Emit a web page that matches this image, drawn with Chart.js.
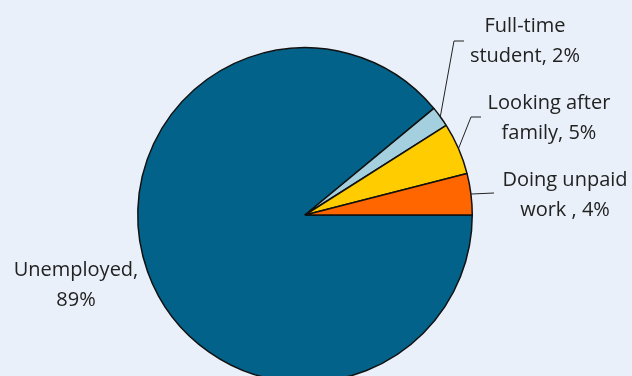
<!DOCTYPE html>
<html>
<head>
<meta charset="utf-8">
<script src="https://cdn.jsdelivr.net/npm/chart.js@4/dist/chart.umd.min.js"></script>
<style>
  html, body { margin: 0; padding: 0; overflow: hidden; background: #e9f0f9; }
  #wrap { position: relative; width: 632px; height: 383px; }
</style>
</head>
<body>
<div id="wrap"><canvas id="pie"></canvas></div>
<script>
// status shares, clockwise from 3 o'clock
const categories = ['Unemployed', 'Full-time student', 'Looking after family', 'Doing unpaid work'];
const shares = [89, 2, 5, 4];
const labelLines = [
  ['Unemployed,', '89%'],
  ['Full-time', 'student, 2%'],
  ['Looking after', 'family, 5%'],
  ['Doing unpaid', 'work , 4%']
];
const colours = ['#03628a', '#a3cfdf', '#ffcc00', '#ff6600'];

// label placement relative to pie centre; line = points the leader passes after leaving the arc
const labelLayout = [
  { x: -229, y: 70, line: null },
  { x: 220, y: -174, line: [[149, -174], [159, -174]] },
  { x: 244, y: -97, line: [[166, -98], [176, -98]] },
  { x: 260, y: -20, line: [[189, -22]] }
];

const calloutPlugin = {
  id: 'callouts',
  afterDatasetsDraw(chart) {
    const ctx = chart.ctx;
    const arcs = chart.getDatasetMeta(0).data;
    ctx.save();
    ctx.font = '20px "Open Sans", sans-serif';
    ctx.fillStyle = '#222';
    ctx.textAlign = 'center';
    ctx.textBaseline = 'middle';
    ctx.strokeStyle = '#222';
    ctx.lineWidth = 1;
    arcs.forEach((arc, i) => {
      const lay = labelLayout[i];
      const cx = arc.x, cy = arc.y;
      if (lay.line) {
        const mid = (arc.startAngle + arc.endAngle) / 2;
        ctx.beginPath();
        ctx.moveTo(cx + Math.cos(mid) * arc.outerRadius, cy + Math.sin(mid) * arc.outerRadius);
        lay.line.forEach(p => ctx.lineTo(cx + p[0], cy + p[1]));
        ctx.stroke();
      }
      labelLines[i].forEach((t, j) => {
        ctx.fillText(t, cx + lay.x, cy + lay.y - 15 + j * 30);
      });
    });
    ctx.restore();
  }
};

new Chart(document.getElementById('pie'), {
  type: 'pie',
  data: {
    labels: categories,
    datasets: [{
      data: shares,
      backgroundColor: colours,
      borderColor: '#111',
      borderWidth: 1.5
    }]
  },
  options: {
    responsive: true,
    maintainAspectRatio: false,
    animation: false,
    rotation: 90,
    layout: { padding: { top: 47, left: 137, right: 159, bottom: 0 } },
    plugins: {
      legend: { display: false },
      tooltip: { enabled: false }
    }
  },
  plugins: [calloutPlugin]
});
</script>
</body>
</html>
